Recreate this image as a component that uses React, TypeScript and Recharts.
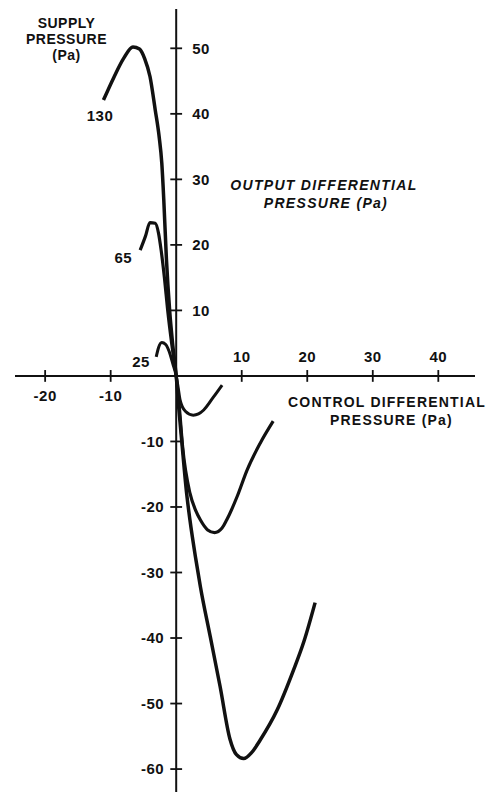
import React from 'react';
import { LineChart, Line, XAxis, YAxis, ReferenceLine, ReferenceDot } from 'recharts';

// Supply pressure 130 Pa
const supply130 = [
  { x: -11.1, y: 42.1 }, { x: -9.5, y: 45.6 }, { x: -8.0, y: 48.5 }, { x: -6.6, y: 50.2 },
  { x: -5.6, y: 49.9 }, { x: -4.8, y: 48.4 }, { x: -4.0, y: 45.7 }, { x: -3.2, y: 40.6 },
  { x: -2.6, y: 36.5 }, { x: -2.2, y: 32.5 }, { x: -1.9, y: 27 }, { x: -1.5, y: 18 },
  { x: -1.0, y: 10 }, { x: -0.5, y: 4.5 }, { x: 0, y: 0 }, { x: 0.4, y: -5 },
  { x: 0.85, y: -10 }, { x: 1.6, y: -18 }, { x: 2.1, y: -22 }, { x: 3.0, y: -28 },
  { x: 3.7, y: -32.2 }, { x: 5.2, y: -39.8 }, { x: 6.7, y: -47.4 }, { x: 8.2, y: -55.4 },
  { x: 9.2, y: -57.8 }, { x: 10.3, y: -58.4 }, { x: 11.5, y: -57.5 }, { x: 12.8, y: -55.6 },
  { x: 15.4, y: -51 }, { x: 17.9, y: -44.9 }, { x: 19.5, y: -40.5 }, { x: 21.2, y: -34.6 },
];

// Supply pressure 65 Pa
const supply65 = [
  { x: -5.5, y: 19.2 }, { x: -4.7, y: 21.3 }, { x: -4.0, y: 23.4 }, { x: -3.2, y: 23.3 },
  { x: -2.7, y: 21.8 }, { x: -2.3, y: 19.2 }, { x: -1.8, y: 15 }, { x: -1.3, y: 10 },
  { x: -0.7, y: 5 }, { x: 0, y: 0 }, { x: 0.5, y: -5 }, { x: 1.0, y: -11 },
  { x: 2.1, y: -17.9 }, { x: 3.0, y: -20.6 }, { x: 3.7, y: -22 }, { x: 4.8, y: -23.5 },
  { x: 5.85, y: -23.9 }, { x: 7.0, y: -23.2 }, { x: 7.7, y: -22 }, { x: 9.3, y: -18.4 },
  { x: 10.8, y: -14.4 }, { x: 12.8, y: -10.3 }, { x: 14.8, y: -6.9 },
];

// Supply pressure 25 Pa
const supply25 = [
  { x: -3.05, y: 2.9 }, { x: -2.7, y: 4.3 }, { x: -2.2, y: 5.1 }, { x: -1.6, y: 4.8 },
  { x: -1.1, y: 3.8 }, { x: -0.5, y: 1.8 }, { x: 0, y: 0 }, { x: 0.3, y: -1.8 },
  { x: 0.6, y: -3.7 }, { x: 1.4, y: -5.4 }, { x: 2.6, y: -6.0 }, { x: 3.4, y: -5.8 },
  { x: 4.2, y: -5.2 }, { x: 5.7, y: -3.2 }, { x: 7.0, y: -1.4 },
];

const xTicks = [-20, -10, 10, 20, 30, 40];
const yTicks = [50, 40, 30, 20, 10, -10, -20, -30, -40, -50, -60];

const curveLabels = [
  { text: '130', x: -11.63, y: 39.67 },
  { text: '65', x: -8.07, y: 18.1 },
  { text: '25', x: -5.37, y: 2.2 },
];

const titles = [
  { lines: ['SUPPLY', 'PRESSURE', '(Pa)'], dxs: [0, 0, 0], x: -16.74, y: 53.9, italic: false, size: 14, ls: 0.5, lh: 16 },
  { lines: ['OUTPUT DIFFERENTIAL', 'PRESSURE (Pa)'], dxs: [0, 2], x: 22.55, y: 29.13, italic: true, size: 14, ls: 1.3, lh: 18 },
  { lines: ['CONTROL DIFFERENTIAL', 'PRESSURE (Pa)'], dxs: [0, 4.5], x: 32.17, y: -4.03, italic: false, size: 14, ls: 1.2, lh: 18 },
];

const INK = '#111';
const FONT = '"Liberation Sans", Arial, sans-serif';

export default function App() {
  return (
    <div style={{ width: 495, height: 792, background: '#fff' }}>
      <style>{'body{margin:0;}'}</style>
      <LineChart width={495} height={792} margin={{ top: 9, right: 20, bottom: 0, left: 15 }}>
        <XAxis type="number" dataKey="x" domain={[-24.6, 45.6]} hide allowDataOverflow />
        <YAxis type="number" dataKey="y" domain={[-63.5, 56]} hide allowDataOverflow />
        <ReferenceLine x={0} stroke={INK} strokeWidth={2} />
        <ReferenceLine y={0} stroke={INK} strokeWidth={2} />
        {xTicks.map((t) => (
          <ReferenceLine key={'xt' + t} segment={[{ x: t, y: -0.9 }, { x: t, y: 0.9 }]} stroke={INK} strokeWidth={1.8} />
        ))}
        {yTicks.map((t) => (
          <ReferenceLine key={'yt' + t} segment={[{ x: -0.9, y: t }, { x: 0.9, y: t }]} stroke={INK} strokeWidth={1.8} />
        ))}
        {xTicks.map((t) => (
          <ReferenceDot
            key={'xl' + t}
            x={t}
            y={0}
            r={0}
            shape={(p: any) => (
              <text x={p.cx} y={t > 0 ? p.cy - 19 : p.cy + 20} dy="0.35em" textAnchor="middle"
                fontFamily={FONT} fontWeight="bold" fontSize={15} letterSpacing={0.5} fill={INK}>
                {String(t)}
              </text>
            )}
          />
        ))}
        {yTicks.map((t) => (
          <ReferenceDot
            key={'yl' + t}
            x={0}
            y={t}
            r={0}
            shape={(p: any) => (
              <text x={t > 0 ? p.cx + 16 : p.cx - 12} y={p.cy} dy="0.35em" textAnchor={t > 0 ? 'start' : 'end'}
                fontFamily={FONT} fontWeight="bold" fontSize={15} letterSpacing={0.5} fill={INK}>
                {String(t)}
              </text>
            )}
          />
        ))}
        {curveLabels.map((c) => (
          <ReferenceDot
            key={'cl' + c.text}
            x={c.x}
            y={c.y}
            r={0}
            shape={(p: any) => (
              <text x={p.cx} y={p.cy} dy="0.35em" textAnchor="middle"
                fontFamily={FONT} fontWeight="bold" fontSize={15} letterSpacing={0.5} fill={INK}>
                {c.text}
              </text>
            )}
          />
        ))}
        {titles.map((tt, k) => (
          <ReferenceDot
            key={'tt' + k}
            x={tt.x}
            y={tt.y}
            r={0}
            shape={(p: any) => (
              <text textAnchor="middle" fontFamily={FONT} fontWeight="bold" fontSize={tt.size}
                fontStyle={tt.italic ? 'italic' : 'normal'} letterSpacing={tt.ls} fill={INK}>
                {tt.lines.map((ln, i) => (
                  <tspan key={i} x={p.cx + tt.dxs[i]} y={p.cy + i * tt.lh} dy="0.35em">{ln}</tspan>
                ))}
              </text>
            )}
          />
        ))}
        <Line data={supply130} dataKey="y" type="monotone" stroke={INK} strokeWidth={3.5} dot={false} isAnimationActive={false} />
        <Line data={supply65} dataKey="y" type="monotone" stroke={INK} strokeWidth={3.2} dot={false} isAnimationActive={false} />
        <Line data={supply25} dataKey="y" type="monotone" stroke={INK} strokeWidth={3} dot={false} isAnimationActive={false} />
      </LineChart>
    </div>
  );
}
